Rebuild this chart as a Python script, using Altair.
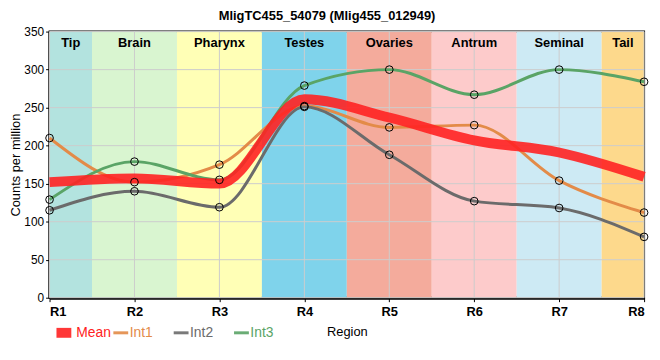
import altair as alt
import pandas as pd

positions = [1, 2, 3, 4, 5, 6, 7, 8]
tick_labels = ["R1", "R2", "R3", "R4", "R5", "R6", "R7", "R8"]

mean_vals = [152, 157, 150, 261, 237, 207, 191, 159]
int1_vals = [210, 152, 175, 252, 224, 227, 154, 112]
int2_vals = [115, 140, 119, 251, 188, 127, 118, 80]
int3_vals = [129, 179, 155, 279, 300, 267, 300, 284]

series_names = ["Mean", "Int1", "Int2", "Int3"]
series_colors = ["#ff2222", "#e38b48", "#6b6b6b", "#5aa466"]
series_widths = [10, 3, 3, 3]

region_names = ["Tip", "Brain", "Pharynx", "Testes", "Ovaries", "Antrum", "Seminal", "Tail"]
region_start = [1, 1.5, 2.5, 3.5, 4.5, 5.5, 6.5, 7.5]
region_end = [1.5, 2.5, 3.5, 4.5, 5.5, 6.5, 7.5, 8]
region_colors = ["#b3e3df", "#d9f5d0", "#ffffb6", "#7fd3eb", "#f4ab9c", "#fdcbcb", "#cdeaf4", "#fdd98c"]

y_ticks = [0, 50, 100, 150, 200, 250, 300, 350]

rows = []
for name, vals in zip(series_names, [mean_vals, int1_vals, int2_vals, int3_vals]):
    for p, v in zip(positions, vals):
        rows.append({"pos": p, "value": v, "series": name})
df = pd.DataFrame(rows)

regions = pd.DataFrame({
    "name": region_names,
    "start": region_start,
    "end": region_end,
    "color": region_colors,
})
regions["mid"] = (regions["start"] + regions["end"]) / 2

xgrid = pd.DataFrame({"pos": positions})
ygrid = pd.DataFrame({"tick": y_ticks})

xs = alt.Scale(domain=[1, 8], nice=False, zero=False)
ys = alt.Scale(domain=[0, 350], nice=False)

label_expr = "[" + ",".join("'%s'" % t for t in tick_labels) + "][datum.value - 1]"

x_axis = alt.Axis(values=positions, labelExpr=label_expr, grid=False,
                  labelFontWeight="bold", labelFontSize=13, labelColor="black",
                  labelFont="Liberation Sans", labelPadding=4,
                  domainColor="black", domainWidth=3, tickColor="black", tickSize=4,
                  title="Region", titleFontWeight="normal", titleFontSize=13,
                  titleFont="Liberation Sans", titleColor="black", titlePadding=7)
y_axis = alt.Axis(values=y_ticks, grid=False, labelFontSize=12, labelColor="black",
                  labelFont="Liberation Sans", labelOverlap=False,
                  domainColor="black", domainWidth=3, tickColor="black", tickSize=4,
                  title="Counts per million", titleFontWeight="normal", titleFontSize=13,
                  titleFont="Liberation Sans", titleColor="black", titlePadding=1)


def X(field):
    return alt.X(field, scale=xs, axis=x_axis)


def Y(field):
    return alt.Y(field, scale=ys, axis=y_axis)


rects = alt.Chart(regions).mark_rect().encode(
    x=X("start:Q"),
    x2="end:Q",
    y=Y("y0:Q"),
    y2="y1:Q",
    fill=alt.Color("color:N", scale=None, legend=None),
).transform_calculate(y0="0", y1="350")

region_text = alt.Chart(regions).mark_text(
    fontWeight="bold", fontSize=13, font="Liberation Sans", baseline="middle", color="black"
).encode(
    x=X("mid:Q"),
    y=alt.value(12),
    text="name:N",
)

xg = alt.Chart(xgrid).mark_rule(color="#cccccc", strokeWidth=1).encode(x=X("pos:Q"))
yg = alt.Chart(ygrid).mark_rule(color="#cccccc", strokeWidth=1).encode(y=Y("tick:Q"))

legend = alt.Legend(title=None, orient="none", legendX=2, legendY=292,
                    direction="horizontal", labelFontSize=14, gridAlign="all",
                    symbolType="stroke", symbolSize=225, clipHeight=25,
                    columnPadding={"expr": "-1"}, labelOffset=0,
                    labelColor={"expr": "scale('color', datum.value)"})

color_enc = alt.Color("series:N", scale=alt.Scale(domain=series_names, range=series_colors),
                      legend=legend)
width_enc = alt.StrokeWidth("series:N",
                            scale=alt.Scale(type="ordinal", domain=series_names, range=series_widths),
                            legend=legend)

ints = alt.Chart(df).transform_filter(alt.datum.series != "Mean").mark_line(
    interpolate="monotone").encode(
    x=X("pos:Q"),
    y=Y("value:Q"),
    color=color_enc,
    strokeWidth=width_enc,
)

mean_line = alt.Chart(df).transform_filter(alt.datum.series == "Mean").mark_line(
    interpolate="monotone", opacity=0.9).encode(
    x=X("pos:Q"),
    y=Y("value:Q"),
    color=color_enc,
    strokeWidth=width_enc,
)

pts = alt.Chart(df).transform_filter(alt.datum.series != "Mean").mark_point(
    shape="circle", size=60, stroke="black", strokeWidth=1, filled=False, opacity=1).encode(
    x=X("pos:Q"),
    y=Y("value:Q"),
)

chart = alt.layer(rects, xg, yg, region_text, ints, mean_line, pts).properties(
    width=601, height=269,
    title=alt.TitleParams("MligTC455_54079 (Mlig455_012949)", fontSize=13, fontWeight="bold",
                          font="Liberation Sans", anchor="middle", dx=-20, offset=3, color="black"),
    autosize=alt.AutoSizeParams(type="none"),
    padding={"left": 42, "top": 22, "right": 8, "bottom": 50},
    background="white",
).configure_view(stroke="black", strokeWidth=2)

chart.save("out.html", embed_options={"renderer": "svg", "actions": False})
